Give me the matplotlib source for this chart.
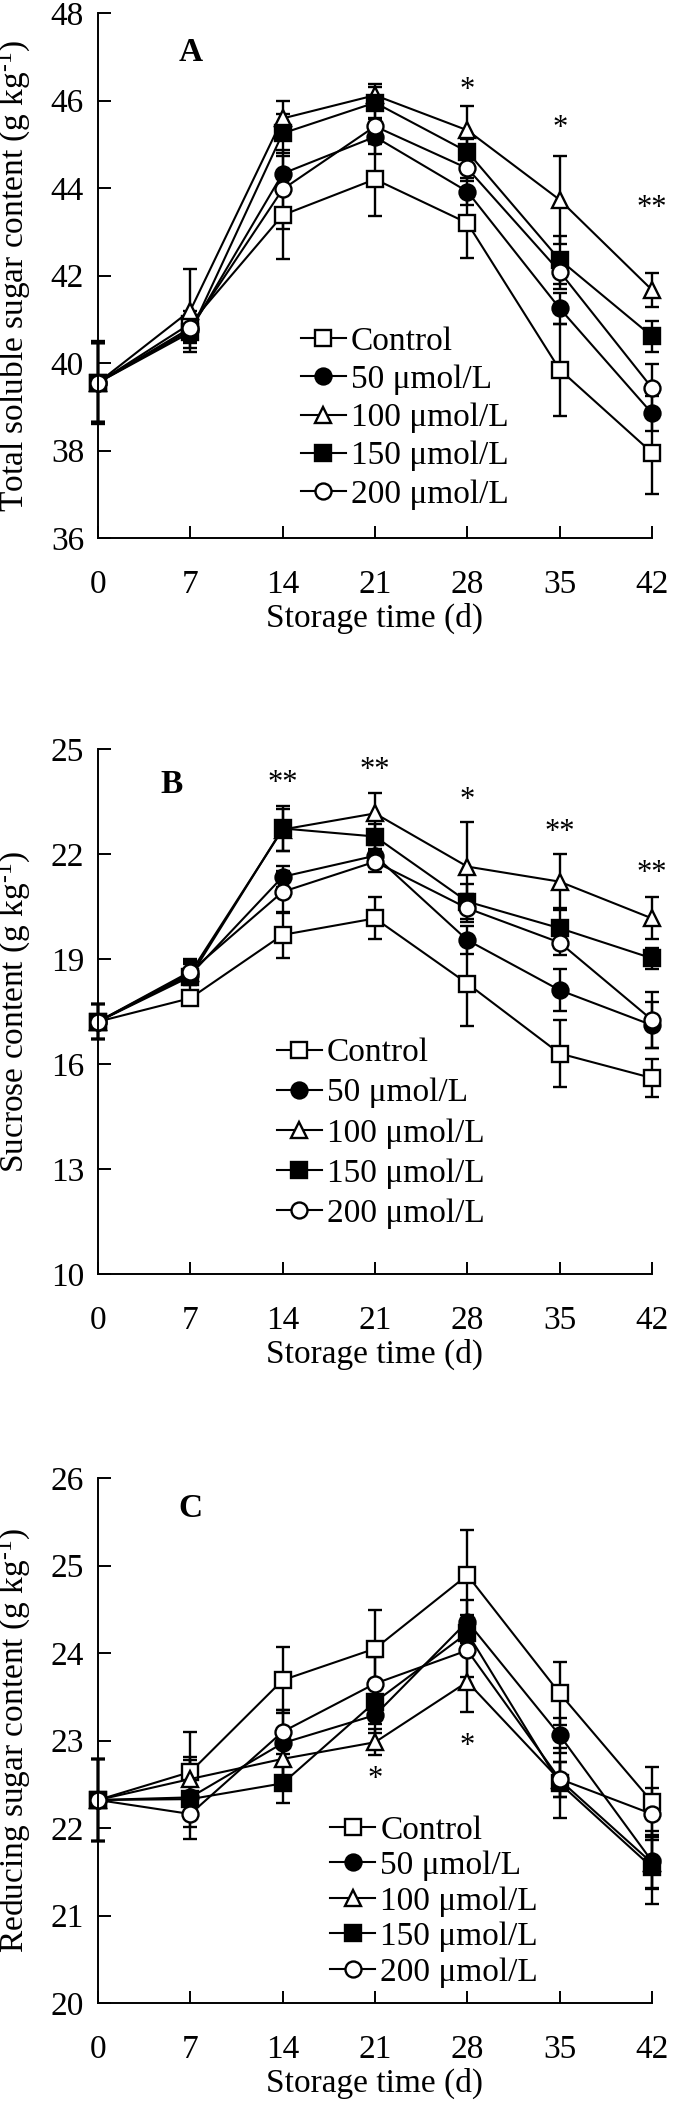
import matplotlib
matplotlib.use("Agg")
import matplotlib.pyplot as plt

plt.rcParams['font.family'] = ['Liberation Serif', 'DejaVu Serif']
plt.rcParams['mathtext.fontset'] = 'custom'
plt.rcParams['mathtext.rm'] = 'Liberation Serif'
plt.rcParams['mathtext.it'] = 'Liberation Serif:italic'

days = [0, 7, 14, 21, 28, 35, 42]
labels = ['Control', '50 μmol/L', '100 μmol/L', '150 μmol/L', '200 μmol/L']

# Panel A: total soluble sugar
a_ctrl = [39.55, 40.9, 43.38, 44.2, 43.2, 39.85, 37.95]
a_50 = [39.55, 40.75, 44.33, 45.17, 43.92, 41.25, 38.85]
a_100 = [39.55, 41.2, 45.59, 46.12, 45.32, 43.73, 41.67]
a_150 = [39.55, 40.7, 45.25, 45.95, 44.83, 42.36, 40.61]
a_200 = [39.55, 40.8, 43.97, 45.41, 44.45, 42.09, 39.43]
a_ctrl_err = [0.95, 0.3, 1.0, 0.85, 0.8, 1.05, 0.95]
a_50_err = [0.9, 0.3, 0.4, 0.4, 0.3, 0.35, 0.4]
a_100_err = [0.9, 0.95, 0.4, 0.25, 0.55, 1.0, 0.38]
a_150_err = [0.9, 0.35, 0.45, 0.35, 0.3, 0.55, 0.35]
a_200_err = [0.9, 0.3, 0.9, 0.4, 0.3, 0.4, 0.55]

# Panel B: sucrose
b_ctrl = [17.21, 17.88, 19.69, 20.16, 18.3, 16.3, 15.6]
b_50 = [17.21, 18.55, 21.35, 21.95, 19.54, 18.11, 17.11]
b_100 = [17.21, 18.6, 22.7, 23.16, 21.64, 21.21, 20.16]
b_150 = [17.21, 18.5, 22.73, 22.5, 20.64, 19.88, 19.02]
b_200 = [17.21, 18.64, 20.92, 21.78, 20.45, 19.47, 17.26]
b_ctrl_err = [0.5, 0.2, 0.65, 0.6, 1.2, 0.95, 0.55]
b_50_err = [0.5, 0.3, 0.3, 0.3, 0.4, 0.6, 0.65]
b_100_err = [0.5, 0.3, 0.6, 0.57, 1.28, 0.8, 0.6]
b_150_err = [0.5, 0.5, 0.65, 0.35, 0.5, 0.57, 0.3]
b_200_err = [0.5, 0.3, 0.6, 0.3, 0.4, 0.35, 0.8]

# Panel C: reducing sugar
c_ctrl = [22.32, 22.64, 23.69, 24.05, 24.89, 23.54, 22.3]
c_50 = [22.32, 22.35, 22.97, 23.29, 24.36, 23.06, 21.62]
c_100 = [22.32, 22.56, 22.79, 22.98, 23.67, 22.55, 21.6]
c_150 = [22.32, 22.33, 22.51, 23.44, 24.23, 22.51, 21.55]
c_200 = [22.32, 22.16, 23.1, 23.65, 24.03, 22.56, 22.16]
c_ctrl_err = [0.47, 0.46, 0.38, 0.44, 0.52, 0.36, 0.4]
c_50_err = [0.47, 0.2, 0.38, 0.2, 0.25, 0.2, 0.3]
c_100_err = [0.47, 0.25, 0.2, 0.15, 0.34, 0.2, 0.3]
c_150_err = [0.47, 0.45, 0.22, 0.25, 0.2, 0.4, 0.42]
c_200_err = [0.47, 0.15, 0.25, 0.3, 0.3, 0.2, 0.3]

# significance marks
a_sig_x = [28, 35, 42]; a_sig_y = [46.24, 45.36, 43.54]; a_sig = ['*', '*', '**']
b_sig_x = [14, 21, 28, 35, 42]; b_sig_y = [24.02, 24.4, 23.54, 22.61, 21.45]; b_sig = ['**', '**', '*', '**', '**']
c_sig_x = [21, 28]; c_sig_y = [22.55, 22.93]; c_sig = ['*', '*']

styles = [
    dict(marker='s', mfc='white'),
    dict(marker='o', mfc='black'),
    dict(marker='^', mfc='white'),
    dict(marker='s', mfc='black'),
    dict(marker='o', mfc='white'),
]

W, H = 682, 2101
fig = plt.figure(figsize=(W / 100, H / 100), dpi=100)
FS = 24
unit = ' (g kg$^{\\mathregular{\u20101}}$)'

panels = [
    dict(top=13, bot=538, series=[a_ctrl, a_50, a_100, a_150, a_200],
         errs=[a_ctrl_err, a_50_err, a_100_err, a_150_err, a_200_err],
         ylim=(36, 48), yticks=[36, 38, 40, 42, 44, 46, 48],
         ylabel='Total soluble sugar content' + unit,
         letter='A', lx=7.0, ly=47.1, sx=a_sig_x, sy=a_sig_y, st=a_sig,
         leg=(0.366, 0.403), lsp=0.23),
    dict(top=749, bot=1274, series=[b_ctrl, b_50, b_100, b_150, b_200],
         errs=[b_ctrl_err, b_50_err, b_100_err, b_150_err, b_200_err],
         ylim=(10, 25), yticks=[10, 13, 16, 19, 22, 25],
         ylabel='Sucrose content' + unit,
         letter='B', lx=5.6, ly=24.0, sx=b_sig_x, sy=b_sig_y, st=b_sig,
         leg=(0.323, 0.45), lsp=0.29),
    dict(top=1478, bot=2003, series=[c_ctrl, c_50, c_100, c_150, c_200],
         errs=[c_ctrl_err, c_50_err, c_100_err, c_150_err, c_200_err],
         ylim=(20, 26), yticks=[20, 21, 22, 23, 24, 25, 26],
         ylabel='Reducing sugar content' + unit,
         letter='C', lx=7.0, ly=25.65, sx=c_sig_x, sy=c_sig_y, st=c_sig,
         leg=(0.419, 0.358), lsp=0.15),
]

left_px, right_px = 98, 652
for p in panels:
    ax = fig.add_axes([left_px / W, 1 - p['bot'] / H, (right_px - left_px) / W,
                       (p['bot'] - p['top']) / H])
    handles = []
    for vals, err, lab, st in zip(p['series'], p['errs'], labels, styles):
        cont = ax.errorbar(days, vals, yerr=err, color='black', lw=1.5,
                           capsize=5, capthick=1.7, elinewidth=1.7,
                           marker=st['marker'], mfc=st['mfc'], mec='black',
                           mew=1.7, ms=11.5, label=lab, clip_on=False)
        handles.append(cont[0])
    ax.set_xlim(0, 42)
    ax.set_ylim(*p['ylim'])
    ax.set_xticks(days)
    ax.set_yticks(p['yticks'])
    ax.spines['top'].set_visible(False)
    ax.spines['right'].set_visible(False)
    for s in ['left', 'bottom']:
        ax.spines[s].set_linewidth(1.4)
    ax.tick_params(axis='both', direction='in', length=9, width=1.4,
                   labelsize=FS)
    ax.tick_params(axis='x', pad=23)
    ax.tick_params(axis='y', pad=10)
    ax.set_xlabel('Storage time (d)', fontsize=FS, labelpad=2)
    ax.set_ylabel(p['ylabel'], fontsize=FS)
    ax.yaxis.set_label_coords(-0.117, 0.5)
    ax.text(p['lx'], p['ly'], p['letter'], fontsize=FS, fontweight='bold',
            ha='center', va='center')
    for x, y, t in zip(p['sx'], p['sy'], p['st']):
        ax.text(x, y, t, fontsize=22, ha='center', va='center')
    ax.legend(handles=handles, labels=labels, loc='upper left',
              bbox_to_anchor=p['leg'], frameon=False,
              fontsize=FS, handlelength=1.35, handletextpad=0.15,
              labelspacing=p['lsp'], borderpad=0, borderaxespad=0)

fig.savefig('out.png', dpi=100)
